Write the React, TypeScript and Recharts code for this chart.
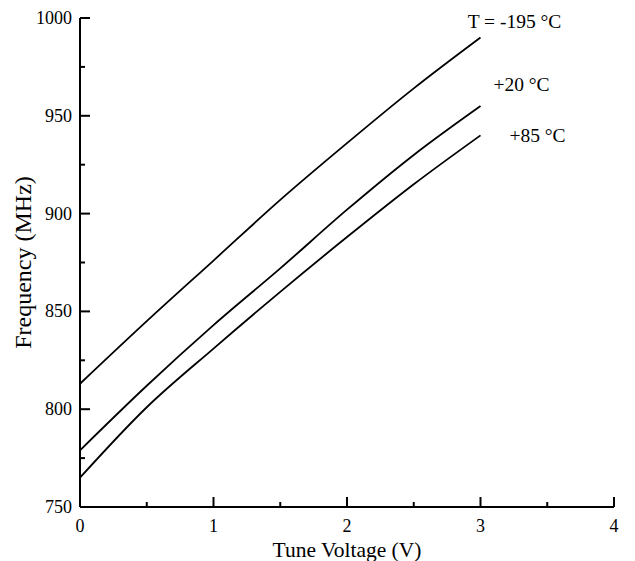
import React from "react";
import { LineChart, Line, XAxis, YAxis, LabelList } from "recharts";

const voltage = [0, 0.5, 1, 1.5, 2, 2.5, 3];
const freqMinus195 = [813, 845, 876, 907, 936, 964, 990];
const freqPlus20 = [779, 812, 843, 872, 902, 930, 955];
const freqPlus85 = [765, 801, 831, 860, 888, 915, 940];

const xTicks = [0, 0.5, 1, 1.5, 2, 2.5, 3, 3.5, 4];
const yTicks = [750, 775, 800, 825, 850, 875, 900, 925, 950, 975, 1000];

const data = voltage.map((v, i) => ({
    v,
    cold: freqMinus195[i],
    room: freqPlus20[i],
    hot: freqPlus85[i],
}));

const FONT = '"Liberation Serif", "Times New Roman", serif';

function YTick(props: any) {
    const { x, y, payload } = props;
    const major = payload.value % 50 === 0;
    return (
        <g>
            <line x1={x} y1={y} x2={x + (major ? 10 : 5)} y2={y} stroke="#000" strokeWidth={2} />
            {major && (
                <text x={x - 8} y={y} dy={6} textAnchor="end" fontSize={18} fontFamily={FONT} fill="#000">
                    {payload.value}
                </text>
            )}
        </g>
    );
}

function XTick(props: any) {
    const { x, y, payload } = props;
    const major = Number.isInteger(payload.value);
    return (
        <g>
            <line x1={x} y1={y} x2={x} y2={y - (major ? 10 : 5)} stroke="#000" strokeWidth={2} />
            {major && (
                <text x={x} y={y} dy={25} textAnchor="middle" fontSize={18} fontFamily={FONT} fill="#000">
                    {payload.value}
                </text>
            )}
        </g>
    );
}

function endLabel(text: string, dx: number, dy: number) {
    return (props: any) => {
        const { x, y, index } = props;
        if (index !== voltage.length - 1) return null;
        return (
            <text x={x + dx} y={y + dy} dy={7} textAnchor="middle" fontSize={19.5} fontFamily={FONT} fill="#000">
                {text}
            </text>
        );
    };
}

export default function App() {
    return (
        <div style={{ position: "absolute", left: 0, top: 0, background: "#fff" }}>
            <LineChart
                width={635}
                height={561}
                data={data}
                margin={{ top: 18, right: 21, bottom: 0, left: 0 }}
            >
                <XAxis
                    dataKey="v"
                    type="number"
                    domain={[0, 4]}
                    ticks={xTicks}
                    interval={0}
                    height={54}
                    tickSize={0}
                    tickMargin={0}
                    tickLine={false}
                    axisLine={{ stroke: "#000", strokeWidth: 2 }}
                    tick={<XTick />}
                    label={{
                        value: "Tune Voltage (V)",
                        position: "insideBottom",
                        offset: 4,
                        fontSize: 21.5,
                        fontFamily: FONT,
                        fill: "#000",
                    }}
                />
                <YAxis
                    type="number"
                    domain={[750, 1000]}
                    ticks={yTicks}
                    interval={0}
                    width={80}
                    tickSize={0}
                    tickMargin={0}
                    tickLine={false}
                    axisLine={{ stroke: "#000", strokeWidth: 2 }}
                    tick={<YTick />}
                    label={{
                        value: "Frequency (MHz)",
                        angle: -90,
                        position: "insideLeft",
                        offset: 22,
                        style: { textAnchor: "middle" },
                        fontSize: 24,
                        fontFamily: FONT,
                        fill: "#000",
                    }}
                />
                <Line type="monotone" dataKey="cold" stroke="#000" strokeWidth={1.8} dot={false} isAnimationActive={false}>
                    <LabelList dataKey="cold" content={endLabel("T = -195 °C", 34, -17)} />
                </Line>
                <Line type="monotone" dataKey="room" stroke="#000" strokeWidth={1.8} dot={false} isAnimationActive={false}>
                    <LabelList dataKey="room" content={endLabel("+20 °C", 41, -22)} />
                </Line>
                <Line type="monotone" dataKey="hot" stroke="#000" strokeWidth={1.8} dot={false} isAnimationActive={false}>
                    <LabelList dataKey="hot" content={endLabel("+85 °C", 57, 0)} />
                </Line>
            </LineChart>
        </div>
    );
}
